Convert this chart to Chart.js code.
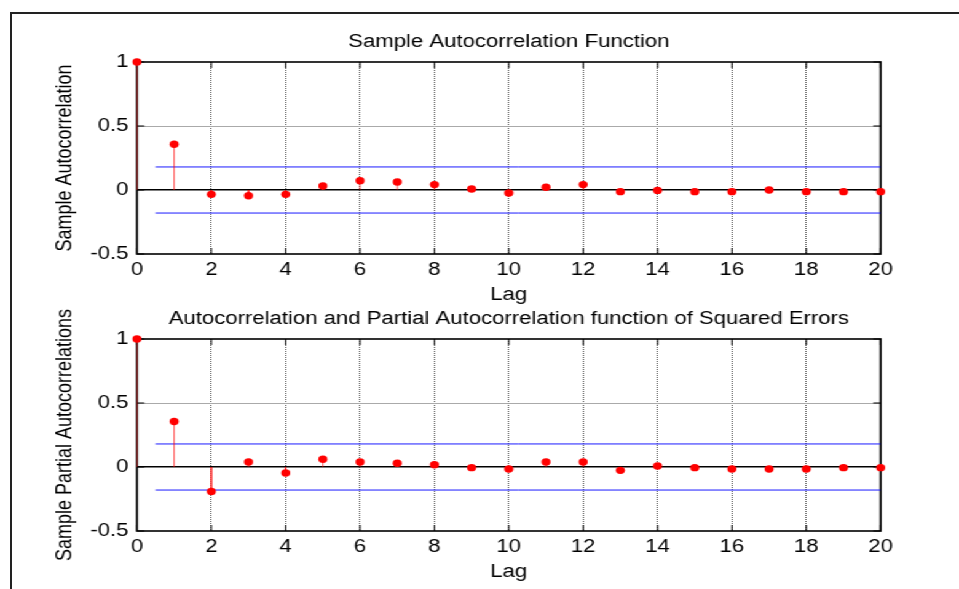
<!DOCTYPE html>
<html lang="en">
<head>
<meta charset="UTF-8">
<title>Sample Autocorrelation</title>
<script src="https://cdn.jsdelivr.net/npm/chart.js"></script>
<style>
  body { margin: 0; background: #fff; width: 959px; height: 589px; overflow: hidden; position: relative; }
  #frame { position: absolute; left: 10px; top: 12px; width: 960px; height: 600px;
           border-top: 2px solid #222; border-left: 2px solid #222; }
  /* the original figure is stretched sideways, so we draw narrow and widen it */
  #stretch { position: absolute; left: 0; top: 0; width: 780px; height: 589px;
             transform: scaleX(1.2295); transform-origin: 0 0; }
  canvas { position: absolute; left: 0; }
</style>
</head>
<body>
<div id="frame"></div>
<div id="stretch">
  <canvas id="acf" width="780" height="310" style="top:0px"></canvas>
  <canvas id="pacf" width="780" height="310" style="top:277px"></canvas>
</div>

<script>
// data
const lags = [0, 1, 2, 3, 4, 5, 6, 7, 8, 9, 10, 11, 12, 13, 14, 15, 16, 17, 18, 19, 20];
const acfValues = [1, 0.357, -0.034, -0.045, -0.034, 0.031, 0.073, 0.062, 0.042, 0.008,
  -0.023, 0.021, 0.042, -0.013, -0.003, -0.013, -0.013, 0, -0.013, -0.013, -0.013];
const pacfValues = [1, 0.356, -0.191, 0.039, -0.047, 0.06, 0.039, 0.029, 0.018, -0.005,
  -0.016, 0.039, 0.039, -0.026, 0.008, -0.005, -0.016, -0.016, -0.016, -0.005, -0.005];
const confBound = 0.18;
const boundFrom = 0.5;
const boundTo = 20;
const xTicks = [0, 2, 4, 6, 8, 10, 12, 14, 16, 18, 20];
const yTicks = [-0.5, 0, 0.5, 1];

Chart.defaults.font.family = "'Liberation Sans', Arial, sans-serif";
Chart.defaults.font.size = 18;
Chart.defaults.color = '#000';

// box round the axes with the small inward ticks, like matlab
const boxTicks = {
  id: 'boxTicks',
  beforeDatasetsDraw(chart) {
    const { ctx, chartArea: a, scales: { x, y } } = chart;
    ctx.save();
    ctx.strokeStyle = '#000';
    ctx.lineWidth = 1;
    ctx.beginPath();
    x.ticks.forEach(t => {
      const px = x.getPixelForValue(t.value);
      ctx.moveTo(px, a.top); ctx.lineTo(px, a.top + 6);
      ctx.moveTo(px, a.bottom); ctx.lineTo(px, a.bottom - 6);
    });
    y.ticks.forEach(t => {
      const py = y.getPixelForValue(t.value);
      ctx.moveTo(a.left, py); ctx.lineTo(a.left + 6, py);
      ctx.moveTo(a.right, py); ctx.lineTo(a.right - 6, py);
    });
    ctx.stroke();
    ctx.lineWidth = 1.6;
    ctx.strokeRect(a.left, a.top, a.right - a.left, a.bottom - a.top);
    ctx.restore();
  }
};

function makeChart(id, title, yLabel, values) {
  const stems = [];
  lags.forEach((l, i) => {
    stems.push({ x: l, y: 0 }, { x: l, y: values[i] }, { x: l, y: null });
  });
  const points = lags.map((l, i) => ({ x: l, y: values[i] }));

  return new Chart(document.getElementById(id), {
    type: 'line',
    data: {
      datasets: [
        { data: points, showLine: false, pointRadius: 3.7, pointBackgroundColor: '#ff0000',
          pointBorderWidth: 0, borderColor: '#ff0000', clip: false, order: 0 },
        { data: stems, borderColor: 'rgba(255,0,0,0.65)', borderWidth: 1, pointRadius: 0,
          spanGaps: false, order: 1 },
        { data: [{ x: boundFrom, y: confBound }, { x: boundTo, y: confBound }],
          borderColor: '#1a1aff', borderWidth: 1, pointRadius: 0, order: 2 },
        { data: [{ x: boundFrom, y: -confBound }, { x: boundTo, y: -confBound }],
          borderColor: '#1a1aff', borderWidth: 1, pointRadius: 0, order: 2 }
      ]
    },
    options: {
      responsive: false,
      animation: false,
      events: [],
      layout: { padding: { top: 31, left: 0, right: 63.7, bottom: 4 } },
      plugins: {
        legend: { display: false },
        tooltip: { enabled: false },
        title: { display: true, text: title, fullSize: false,
                 font: { size: 18, weight: 'normal' }, padding: { top: 0, bottom: 9.4 } }
      },
      scales: {
        x: {
          type: 'linear', min: 0, max: 20,
          afterBuildTicks: s => { s.ticks = xTicks.map(v => ({ value: v })); },
          afterFit: s => { s.height = 52; },
          ticks: { padding: 5, callback: v => String(v) },
          grid: {
            drawTicks: false,
            color: c => (c.tick && (c.tick.value === 0 || c.tick.value === 20)) ? 'rgba(0,0,0,0)' : '#555',
            lineWidth: 1
          },
          border: { display: false, dash: [1, 1] },
          title: { display: true, text: 'Lag', padding: 0 }
        },
        y: {
          min: -0.5, max: 1,
          afterBuildTicks: s => { s.ticks = yTicks.map(v => ({ value: v })); },
          afterFit: s => { s.width = 111.4; },
          ticks: { padding: 7, callback: v => String(v) },
          grid: {
            drawTicks: false,
            color: c => {
              const v = c.tick ? c.tick.value : null;
              if (v === 0) return '#000';
              if (v === 0.5) return '#aaa';
              return 'rgba(0,0,0,0)';
            },
            lineWidth: c => (c.tick && c.tick.value === 0) ? 1.6 : 1
          },
          border: { display: false },
          title: { display: true, text: yLabel, padding: { top: 42.5, bottom: 0 } }
        }
      }
    },
    plugins: [boxTicks]
  });
}

makeChart('acf', 'Sample Autocorrelation Function', 'Sample Autocorrelation', acfValues);
makeChart('pacf', 'Autocorrelation and Partial Autocorrelation function of Squared Errors',
  'Sample Partial Autocorrelations', pacfValues);
</script>
</body>
</html>
